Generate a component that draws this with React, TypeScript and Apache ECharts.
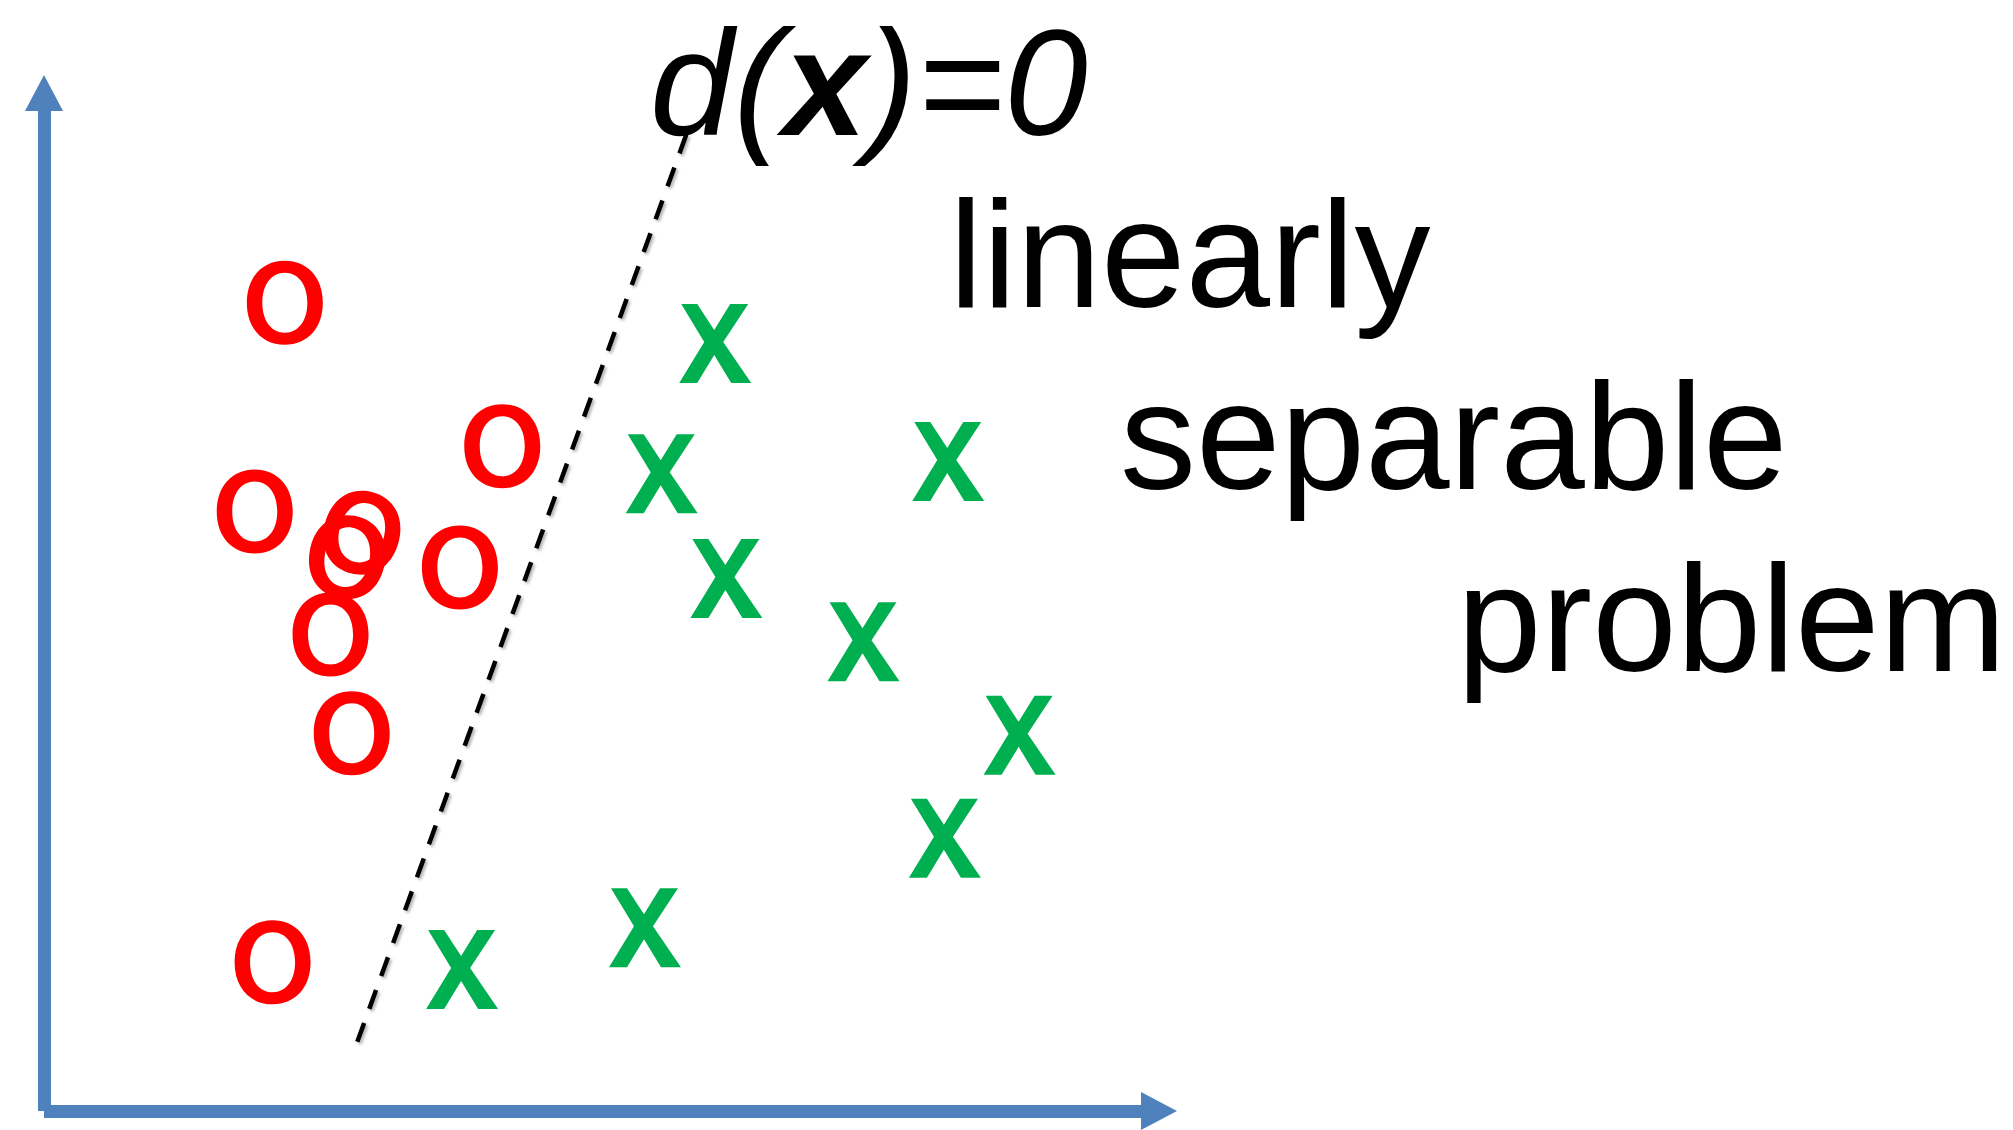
import React, { useEffect, useRef } from "react";
import * as echarts from "echarts";

// Class "o" (red) sample points
const classOX = [2.16, 4.11, 1.89, 2.85, 2.72, 3.73, 2.57, 2.76, 2.05];
const classOY = [7.94, 6.53, 5.89, 5.68, 5.44, 5.34, 4.68, 3.71, 1.46];
const classOTilt = [0, 0, 0, -15, -10, 0, 0, 0, 0];
// Class "x" (green) sample points
const classXX = [6.02, 5.54, 8.11, 6.12, 7.35, 8.75, 8.08, 5.39, 3.75];
const classXY = [7.54, 6.26, 6.38, 5.23, 4.61, 3.69, 2.68, 1.8, 1.39];
// Decision boundary d(x)=0 end points
const boundaryX = [2.81, 5.77];
const boundaryY = [0.68, 9.62];
// Axis range
const axisMin = 0;
const axisMax = 10;
// Texts
const labelLines = ["linearly", "separable", "problem"];

const FONT = "'Liberation Sans', Arial, Helvetica, sans-serif";
const AXIS_BLUE = "#4F81BD";

const O_PATH =
  "path://M38,0C60.8,0 76,16.8 76,42C76,67.2 60.8,84 38,84C15.2,84 0,67.2 0,42C0,16.8 15.2,0 38,0Z" +
  "M38,12C24.5,12 15.5,24 15.5,42C15.5,60 24.5,72 38,72C51.5,72 60.5,60 60.5,42C60.5,24 51.5,12 38,12Z";
const X_PATH =
  "path://M2,0L18,0L35,26L51,0L69,0L44,38L72,79L52,79L35,51L18,79L0,79L25,38Z";

export default function App() {
  const ref = useRef<HTMLDivElement>(null);
  useEffect(() => {
    if (!ref.current) return;
    const chart = echarts.init(ref.current, undefined, { renderer: "svg" });

    const axisCommon = () => ({
      type: "value" as const,
      min: axisMin,
      max: axisMax,
      splitLine: { show: false },
      axisTick: { show: false },
      axisLabel: { show: false },
      axisLine: {
        show: true,
        onZero: false,
        symbol: ["none", "triangle"],
        symbolSize: [38, 36],
        lineStyle: {
          color: AXIS_BLUE,
          width: 13,
          cap: "butt",
        },
      },
    });

    const oData = classOX.map((x, i) => ({
      value: [x, classOY[i]],
      symbolRotate: classOTilt[i],
    }));
    const xData = classXX.map((x, i) => [x, classXY[i]]);
    const lineData = boundaryX.map((x, i) => [x, boundaryY[i]]);

    const labelPos = [
      { x: 949, y: 254 },
      { x: 1120, y: 436 },
      { x: 1457, y: 618 },
    ];

    chart.setOption({
      animation: false,
      backgroundColor: "#ffffff",
      grid: { left: 44, top: 93, width: 1115, height: 1018 },
      xAxis: axisCommon(),
      yAxis: axisCommon(),
      series: [
        {
          type: "line",
          data: lineData,
          symbol: "none",
          z: 1,
          lineStyle: {
            color: "#000000",
            width: 4.5,
            type: [20, 15],
            shadowColor: "rgba(0,0,0,0.3)",
            shadowBlur: 3,
            shadowOffsetX: 2,
            shadowOffsetY: 2,
          },
        },
        {
          type: "scatter",
          data: oData,
          symbol: O_PATH,
          symbolSize: [76, 84],
          itemStyle: { color: "#FF0000", opacity: 1 },
          z: 3,
        },
        {
          type: "scatter",
          data: xData,
          symbol: X_PATH,
          symbolSize: [72, 79],
          itemStyle: { color: "#00B050", opacity: 1 },
          z: 3,
        },
      ],
      graphic: [
        {
          type: "text",
          x: 650,
          y: 83,
          z: 100,
          style: {
            text: "{i|d(}{b|x}{i|)=0}",
            verticalAlign: "middle",
            align: "left",
            rich: {
              i: {
                fontFamily: FONT,
                fontStyle: "italic",
                fontSize: 150,
                lineHeight: 150,
                fill: "#000",
              },
              b: {
                fontFamily: FONT,
                fontStyle: "italic",
                fontWeight: "bold",
                fontSize: 150,
                lineHeight: 150,
                fill: "#000",
              },
            },
          },
        },
        ...labelLines.map((t, i) => ({
          type: "text",
          x: labelPos[i].x,
          y: labelPos[i].y,
          z: 100,
          style: {
            text: t,
            fontFamily: FONT,
            fontSize: 152,
            fill: "#000",
            align: "left",
            verticalAlign: "middle",
          },
        })),
      ],
    });
    return () => chart.dispose();
  }, []);

  return (
    <div
      ref={ref}
      style={{ position: "fixed", left: 0, top: 0, width: 2013, height: 1130, background: "#fff" }}
    />
  );
}
